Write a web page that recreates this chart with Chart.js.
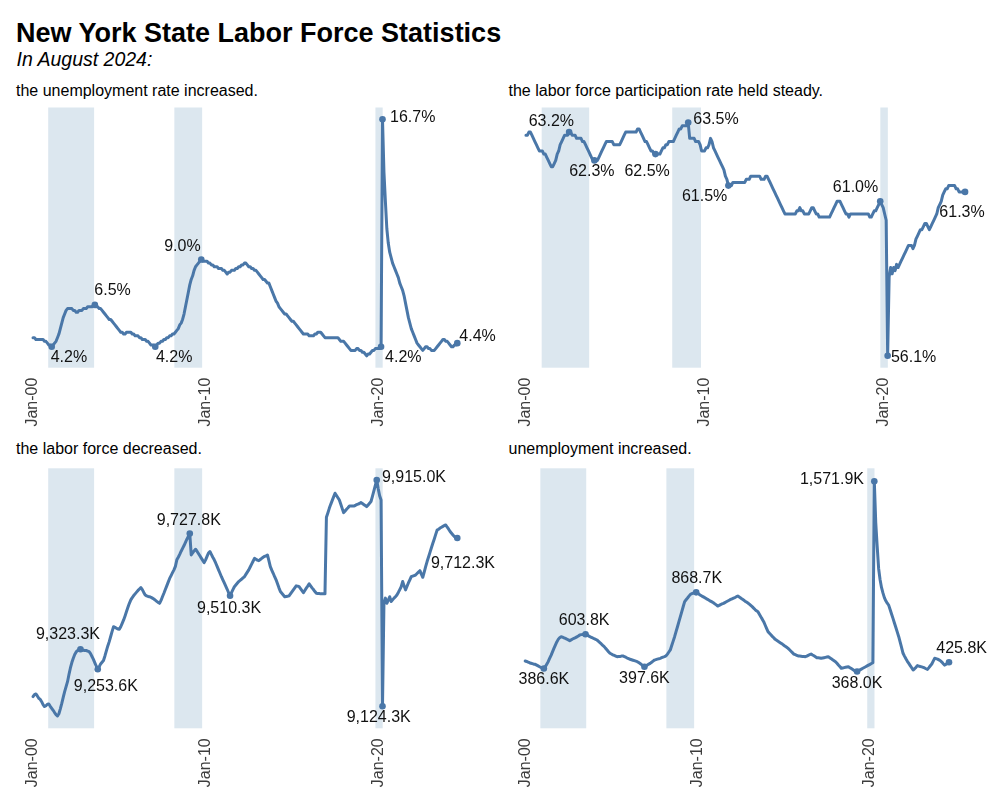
<!DOCTYPE html>
<html>
<head>
<meta charset="utf-8">
<script src="https://cdn.jsdelivr.net/npm/chart.js@4.4.1/dist/chart.umd.min.js"></script>
<style>
html,body{margin:0;padding:0;background:#fff;}
body{width:1000px;height:800px;position:relative;overflow:hidden;font-family:"Liberation Sans",Arial,sans-serif;}
.t{position:absolute;white-space:nowrap;color:#000;}
.box{position:absolute;}
</style>
</head>
<body>
<div class="t" style="left:16px;top:19.8px;font-size:27px;line-height:27px;font-weight:bold;">New York State Labor Force Statistics</div>
<div class="t" style="left:16.5px;top:49.5px;font-size:19.5px;line-height:19.5px;font-style:italic;">In August 2024:</div>
<div class="t" style="left:16px;top:83px;font-size:16px;line-height:16px;">the unemployment rate increased.</div>
<div class="t" style="left:508.5px;top:83px;font-size:16px;line-height:16px;">the labor force participation rate held steady.</div>
<div class="t" style="left:16px;top:441px;font-size:16px;line-height:16px;">the labor force decreased.</div>
<div class="t" style="left:508.5px;top:441px;font-size:16px;line-height:16px;">unemployment increased.</div>

<div class="box" style="left:0;top:100px;"><canvas id="cA" width="500" height="340"></canvas></div>
<div class="box" style="left:500px;top:100px;"><canvas id="cB" width="500" height="340"></canvas></div>
<div class="box" style="left:0;top:440px;"><canvas id="cC" width="500" height="350"></canvas></div>
<div class="box" style="left:500px;top:440px;"><canvas id="cD" width="500" height="350"></canvas></div>

<script>
// ---------- DATA ----------
// monthly observations, Jan 2000 .. Aug 2024
const startYear = 2000;
const monthCount = 296;
const months = Array.from({length: monthCount}, (_, i) => startYear + i / 12);

const tickYears = [2000, 2010, 2020];
const tickLabels = ['Jan-00', 'Jan-10', 'Jan-20'];

// shaded recession periods (decimal years)
const recessionStart = [2000.88, 2008.19, 2019.84];
const recessionEnd   = [2003.54, 2009.80, 2020.26];

// unemployment rate, %
const unempRate = [
4.7,4.7,4.6,4.6,4.6,4.6,4.6,4.6,4.5,4.5,4.4,4.3,
4.3,4.2,4.3,4.4,4.5,4.7,4.9,5.2,5.5,5.8,6.0,6.2,
6.3,6.3,6.3,6.3,6.2,6.2,6.1,6.1,6.2,6.2,6.2,6.3,
6.3,6.3,6.4,6.4,6.4,6.4,6.5,6.5,6.4,6.4,6.3,6.3,
6.2,6.1,6.0,5.9,5.8,5.7,5.7,5.6,5.5,5.4,5.3,5.2,
5.1,5.0,5.0,4.9,4.9,5.0,5.0,5.0,5.0,4.9,4.9,4.8,
4.8,4.8,4.7,4.7,4.6,4.6,4.6,4.5,4.5,4.4,4.3,4.3,
4.3,4.2,4.3,4.4,4.4,4.5,4.5,4.6,4.6,4.7,4.7,4.8,
4.8,4.9,4.9,5.0,5.1,5.2,5.4,5.5,5.7,6.0,6.4,6.8,
7.2,7.6,7.9,8.1,8.4,8.6,8.7,8.8,8.9,9.0,8.9,8.9,
8.9,8.9,8.8,8.8,8.7,8.7,8.6,8.6,8.6,8.5,8.5,8.5,
8.4,8.4,8.3,8.2,8.3,8.3,8.4,8.4,8.4,8.5,8.5,8.6,
8.6,8.7,8.7,8.8,8.8,8.7,8.6,8.6,8.5,8.5,8.4,8.4,
8.3,8.2,8.1,8.0,7.9,7.9,7.8,7.7,7.7,7.5,7.3,7.1,
6.9,6.7,6.6,6.4,6.3,6.2,6.1,6.0,6.0,5.9,5.8,5.7,
5.6,5.6,5.5,5.4,5.3,5.2,5.1,5.0,4.9,4.9,4.9,4.9,
4.8,4.8,4.8,4.8,4.9,4.9,5.0,5.0,5.0,4.9,4.8,4.7,
4.7,4.7,4.7,4.7,4.7,4.7,4.7,4.7,4.7,4.6,4.5,4.5,
4.5,4.4,4.3,4.2,4.1,4.0,4.0,4.0,4.0,4.1,4.1,4.0,
4.0,3.9,3.9,3.8,3.7,3.8,3.8,3.9,4.0,4.0,4.1,4.1,
4.1,4.1,4.2,16.7,13.8,12.2,10.7,9.9,9.4,9.1,8.8,8.6,
8.4,8.2,8.0,7.7,7.5,7.3,7.0,6.6,6.2,5.8,5.5,5.2,
5.0,4.8,4.6,4.4,4.3,4.2,4.1,4.0,4.1,4.2,4.2,4.1,
4.1,4.0,4.0,4.0,4.1,4.2,4.3,4.4,4.5,4.6,4.6,4.5,
4.5,4.4,4.3,4.2,4.2,4.3,4.3,4.4
];

// labor force participation rate, %
const partRate = [
63.1,63.1,63.2,63.2,63.1,63.0,62.9,62.8,62.7,62.6,62.6,62.6,
62.5,62.5,62.4,62.3,62.2,62.1,62.1,62.2,62.3,62.5,62.6,62.8,
62.9,63.0,63.1,63.1,63.1,63.2,63.2,63.1,63.1,63.1,63.0,63.0,
63.0,63.0,62.9,62.9,62.8,62.7,62.6,62.5,62.4,62.3,62.3,62.3,
62.3,62.4,62.5,62.6,62.7,62.8,62.9,62.9,62.9,62.9,62.9,62.8,
62.8,62.8,62.8,62.8,62.9,63.0,63.1,63.2,63.2,63.2,63.2,63.2,
63.2,63.2,63.2,63.3,63.3,63.2,63.1,63.0,62.9,62.9,62.8,62.7,
62.6,62.6,62.5,62.5,62.5,62.5,62.5,62.6,62.7,62.7,62.8,62.8,
62.9,62.9,62.9,62.9,63.0,63.1,63.2,63.3,63.3,63.4,63.4,63.4,
63.4,63.5,63.0,63.0,63.0,63.0,62.9,62.9,62.9,62.8,62.6,62.6,
62.6,62.7,62.7,62.8,63.0,62.9,62.7,62.6,62.5,62.4,62.3,62.2,
62.1,62.0,61.8,61.7,61.5,61.5,61.5,61.6,61.6,61.6,61.6,61.6,
61.6,61.6,61.6,61.6,61.7,61.7,61.7,61.8,61.8,61.8,61.8,61.8,
61.8,61.8,61.7,61.7,61.7,61.8,61.8,61.7,61.6,61.5,61.4,61.3,
61.2,61.1,61.0,60.9,60.8,60.7,60.6,60.6,60.6,60.6,60.6,60.6,
60.6,60.6,60.7,60.7,60.8,60.7,60.7,60.6,60.6,60.6,60.6,60.7,
60.8,60.8,60.7,60.6,60.6,60.5,60.5,60.5,60.5,60.5,60.5,60.5,
60.5,60.6,60.7,60.8,60.9,61.0,61.0,61.0,60.9,60.8,60.7,60.6,
60.6,60.5,60.6,60.6,60.6,60.6,60.6,60.6,60.6,60.6,60.6,60.6,
60.6,60.6,60.6,60.5,60.5,60.6,60.7,60.7,60.8,60.9,61.0,60.9,
60.8,60.6,60.4,56.1,58.6,58.9,58.7,58.9,58.8,59.0,58.9,59.0,
59.1,59.2,59.3,59.4,59.5,59.6,59.6,59.6,59.5,59.6,59.8,59.9,
60.0,60.1,60.1,60.2,60.3,60.3,60.2,60.1,60.2,60.3,60.4,60.5,
60.6,60.8,60.9,61.0,61.2,61.3,61.4,61.4,61.5,61.5,61.5,61.5,
61.5,61.4,61.4,61.3,61.3,61.3,61.3,61.3
];

// civilian labor force, thousands
const laborForce = [
9158,9165,9167,9160,9152,9148,9140,9130,9123,9126,9131,9132,
9124,9117,9110,9102,9095,9090,9098,9115,9134,9155,9175,9193,
9210,9235,9258,9277,9292,9305,9314,9319,9322,9323.3,9321,9320,
9319,9319,9317,9315,9308,9298,9288,9276,9264,9253.6,9262,9272,
9278,9284,9300,9318,9335,9350,9368,9386,9402,9400,9397,9394,
9393,9402,9414,9426,9440,9455,9470,9484,9496,9504,9511,9517,
9523,9529,9534,9539,9532,9522,9513,9510,9508,9507,9505,9502,
9499,9495,9491,9487,9484,9494,9507,9519,9532,9545,9558,9571,
9581,9591,9601,9613,9636,9645,9655,9666,9676,9686,9697,9708,
9718,9727.8,9653,9660,9667,9673,9666,9658,9650,9642,9634,9626,
9636,9648,9660,9665,9655,9645,9636,9625,9613,9601,9589,9577,
9566,9555,9544,9533,9521,9510.3,9521,9532,9542,9548,9554,9560,
9564,9568,9573,9577,9585,9593,9601,9611,9621,9631,9641,9638,
9635,9633,9637,9641,9645,9648,9650,9653,9633,9612,9600,9589,
9577,9566,9552,9538,9525,9519,9513,9507,9508,9509,9510,9517,
9524,9531,9538,9545,9544,9542,9535,9528,9521,9529,9537,9544,
9552,9545,9538,9532,9525,9519,9518,9518,9517,9517,9517,9517,
9785,9800,9816,9830,9843,9856,9869,9861,9853,9845,9830,9815,
9801,9807,9813,9818,9824,9824,9824,9824,9826,9829,9831,9833,
9836,9833,9829,9826,9822,9828,9834,9840,9858,9877,9896,9915.0,
9885,9860,9845,9124.3,9484,9502,9484,9495,9507,9490,9496,9502,
9507,9513,9522,9532,9542,9560,9545,9531,9543,9555,9566,9577,
9579,9581,9583,9588,9593,9598,9586,9575,9593,9612,9630,9646,
9662,9678,9694,9709,9725,9740,9743,9747,9750,9753,9756,9758,
9750,9743,9735,9729,9723,9717,9714,9712.3
];

// unemployed persons, thousands
const unemployed = [
434,431,427,423,420,417,414,413,408,403,398,393,
389,386.6,398,414,430,450,470,492,514,535,555,571,
582,588,585,581,577,572,568,563,568,573,578,582,
587,592,599,601,602,603,603.8,600,594,588,584,580,
575,571,567,559,550,542,533,525,514,504,493,483,
478,473,469,465,461,462,463,465,466,462,458,453,
449,445,442,439,436,433,430,424,418,411,404,397.6,
403,409,414,419,426,433,440,443,446,448,451,455,
459,462,466,478,491,504,532,560,588,620,651,683,
715,747,779,810,822,833,845,856,860,864,867,868.7,
863,857,851,845,840,835,829,824,819,813,808,803,
796,789,782,786,791,795,799,804,809,814,819,824,
828,832,836,841,845,839,833,826,820,813,807,801,
794,786,778,769,760,752,746,730,714,699,683,662,
641,620,610,600,590,581,571,565,559,553,547,541,
534,527,521,514,505,496,487,478,474,470,466,465,
464,463,462,461,465,470,474,478,472,467,461,455,
454,453,451,453,455,457,459,461,455,449,442,436,
430,420,409,399,388,390,392,394,396,398,392,386,
380,374,371,368.0,373,378,383,388,393,398,403,408,
413,418,423,1571.9,1310,1160,1020,950,900,865,835,815,
800,788,760,732,704,675,646,617,588,553,518,483,
465,448,432,419,405,391,377,385,394,405,402,399,
397,394,390,385,381,392,404,415,433,451,449,446,
441,436,427,417,408,414,420,425.8
];

// which observations are annotated
const unempRateLabelIdx  = [13, 43, 85, 117, 242, 243, 295];
const partRateLabelIdx   = [29, 46, 87, 109, 136, 238, 243, 295];
const laborForceLabelIdx = [33, 45, 109, 137, 239, 243, 295];
const unemployedLabelIdx = [13, 42, 83, 119, 231, 243, 295];

// ---------- STYLE ----------
const LINE = '#4A77A8';
const SHADE = '#DCE7EF';
const FONT = '"Liberation Sans", Arial, sans-serif';

// annotation offsets (pixels from the point), per annotated point
const posA = [
  {dx:-1, dy:10.5, a:'left'}, {dx:-0.5, dy:-14, a:'left'}, {dx:0.7, dy:10.5, a:'left'},
  {dx:-0.6, dy:-12.7, a:'right'}, {dx:4, dy:10.5, a:'left'}, {dx:7.5, dy:-2, a:'left'},
  {dx:2, dy:-7, a:'left'}
];
const posB = [
  {dx:-17.8, dy:-10.2, a:'center'}, {dx:-2.6, dy:10.7, a:'center'}, {dx:-8.3, dy:17.1, a:'center'},
  {dx:5.1, dy:-3.4, a:'left'}, {dx:-1.1, dy:11.2, a:'right'}, {dx:-2, dy:-13.9, a:'right'},
  {dx:3.3, dy:1.6, a:'left'}, {dx:-3, dy:20.5, a:'center'}
];
const posC = [
  {dx:-12.5, dy:-15, a:'center'}, {dx:8.1, dy:17.5, a:'center'}, {dx:-1, dy:-12.9, a:'center'},
  {dx:-1, dy:12.5, a:'center'}, {dx:5.2, dy:-2.7, a:'left'}, {dx:-3.8, dy:11.5, a:'center'},
  {dx:5.7, dy:25.3, a:'center'}
];
const posD = [
  {dx:0, dy:11.5, a:'center'}, {dx:-1.4, dy:-13.9, a:'center'}, {dx:0, dy:11.5, a:'center'},
  {dx:0.6, dy:-14, a:'center'}, {dx:0, dy:12.3, a:'center'}, {dx:-10.3, dy:-2, a:'right'},
  {dx:12.6, dy:-14, a:'center'}
];

const fmtPct = v => v.toFixed(1) + '%';
const fmtK = v => v.toLocaleString('en-US', {minimumFractionDigits:1, maximumFractionDigits:1}) + 'K';

const shadePlugin = {
  id: 'shade',
  beforeDatasetsDraw(chart) {
    const {ctx, chartArea, scales} = chart;
    ctx.save();
    ctx.fillStyle = SHADE;
    recessionStart.forEach((s, i) => {
      const x1 = scales.x.getPixelForValue(s);
      const x2 = scales.x.getPixelForValue(recessionEnd[i]);
      ctx.fillRect(x1, chartArea.top, x2 - x1, chartArea.bottom - chartArea.top);
    });
    ctx.restore();
  }
};

const labelPlugin = {
  id: 'ptlabels',
  afterDatasetsDraw(chart, args, opts) {
    const {ctx} = chart;
    const meta = chart.getDatasetMeta(0);
    const vals = chart.data.datasets[0].data;
    ctx.save();
    ctx.font = '16px ' + FONT;
    ctx.fillStyle = '#111';
    ctx.textBaseline = 'middle';
    opts.idx.forEach((k, j) => {
      const el = meta.data[k];
      const p = opts.pos[j];
      ctx.textAlign = p.a;
      ctx.fillText(opts.fmt(vals[k].y), el.x + p.dx, el.y + p.dy);
    });
    ctx.restore();
  }
};

function makeChart(id, values, idx, pos, fmt, yMin, yMax, pad, axisH) {
  new Chart(document.getElementById(id), {
    type: 'line',
    data: {
      datasets: [{
        data: values.map((v, i) => ({x: months[i], y: v})),
        borderColor: LINE,
        backgroundColor: LINE,
        borderWidth: 3,
        borderJoinStyle: 'round',
        borderCapStyle: 'round',
        tension: 0,
        pointRadius: ctx => idx.includes(ctx.dataIndex) ? 3.3 : 0,
        pointBackgroundColor: LINE,
        pointBorderWidth: 0,
        fill: false
      }]
    },
    options: {
      responsive: false,
      animation: false,
      events: [],
      layout: {padding: {left: pad.l, right: pad.r, top: pad.t, bottom: 0}},
      plugins: {
        legend: {display: false},
        tooltip: {enabled: false},
        ptlabels: {idx: idx, pos: pos, fmt: fmt}
      },
      scales: {
        x: {
          type: 'linear',
          min: 1998.771, max: 2025.812,
          grid: {display: false, drawTicks: false},
          border: {display: false},
          afterBuildTicks: s => { s.ticks = tickYears.map(v => ({value: v})); },
          afterFit: s => { s.height = axisH; },
          ticks: {
            autoSkip: false, minRotation: 90, maxRotation: 90, padding: 10,
            color: '#3d3d3d', font: {family: FONT, size: 16},
            callback: (v, i) => tickLabels[i]
          }
        },
        y: {display: false, min: yMin, max: yMax}
      }
    },
    plugins: [shadePlugin, labelPlugin]
  });
}

makeChart('cA', unempRate, unempRateLabelIdx, posA, fmtPct, 3.05, 17.35, {l:11.8, r:21.5, t:7.5}, 72.3);
makeChart('cB', partRate, partRateLabelIdx, posB, fmtPct, 55.72, 63.98, {l:3.0, r:13.0, t:7.5}, 72.3);
makeChart('cC', laborForce, laborForceLabelIdx, posC, fmtK, 9047, 9956, {l:11.8, r:21.5, t:28.3}, 61.7);
makeChart('cD', unemployed, unemployedLabelIdx, posD, fmtK, 8, 1654, {l:3.8, r:29.8, t:28.3}, 61.7);
</script>
</body>
</html>
